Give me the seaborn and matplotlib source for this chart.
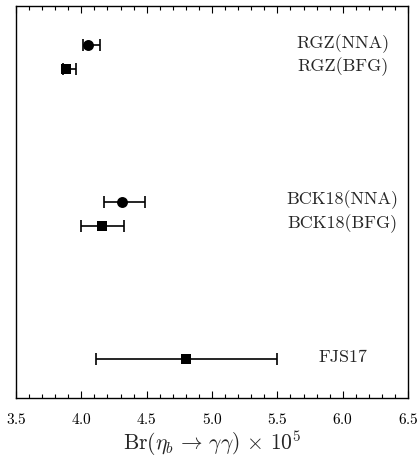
import matplotlib
matplotlib.use("Agg")
import matplotlib.pyplot as plt
from matplotlib.ticker import MultipleLocator
import seaborn as sns
import pandas as pd

sns.set_theme(style="ticks")
plt.rcParams["font.family"] = ["serif"]
plt.rcParams["font.serif"] = ["cmr10", "DejaVu Serif"]
plt.rcParams["mathtext.fontset"] = "cm"
plt.rcParams["axes.formatter.use_mathtext"] = True

# Data
labels = ["RGZ(NNA)", "RGZ(BFG)", "BCK18(NNA)", "BCK18(BFG)", "FJS17"]
values = [4.05, 3.88, 4.31, 4.16, 4.80]
err_low = [0.04, 0.02, 0.14, 0.16, 0.69]
err_high = [0.09, 0.08, 0.18, 0.17, 0.70]
ypos = [9.0, 8.4, 5.0, 4.4, 1.0]
markers = ["circle", "square", "circle", "square", "square"]

df = pd.DataFrame({"label": labels, "value": values, "y": ypos, "marker": markers})

fig = plt.figure(figsize=(4.19, 4.57), dpi=100)
ax = fig.add_axes([0.038, 0.129, 0.936, 0.858])

ax.errorbar(values, ypos, xerr=[err_low, err_high], fmt="none",
            ecolor="black", elinewidth=1.2, capsize=4, capthick=1.2, zorder=2)
sns.scatterplot(data=df[df["marker"] == "circle"], x="value", y="y", marker="o",
                color="black", s=62, linewidth=0, legend=False, ax=ax, zorder=3)
sns.scatterplot(data=df[df["marker"] == "square"], x="value", y="y", marker="s",
                color="black", s=45, linewidth=0, legend=False, ax=ax, zorder=3)

for lab, yy in zip(labels, ypos):
    ax.text(6.0, yy + 0.05, lab, ha="center", va="center", fontsize=13)

ax.set_xlim(3.5, 6.5)
ax.set_ylim(0, 10)
ax.xaxis.set_major_locator(MultipleLocator(0.5))
ax.xaxis.set_minor_locator(MultipleLocator(0.1))
ax.set_yticks([])
ax.tick_params(axis="x", which="both", direction="in", top=True, bottom=True,
               labelsize=11, colors="black")
ax.tick_params(axis="x", which="major", length=5, width=0.8, pad=10)
ax.tick_params(axis="x", which="minor", length=3, width=0.8)
ax.set_xlabel(r"$\mathrm{Br}(\eta_b \,\rightarrow\, \gamma\gamma)\,\times\,10^5$",
              fontsize=15.5, labelpad=1)
ax.set_ylabel("")
for sp in ax.spines.values():
    sp.set_color("black")
    sp.set_linewidth(1.0)

fig.savefig("out.png", dpi=100)
